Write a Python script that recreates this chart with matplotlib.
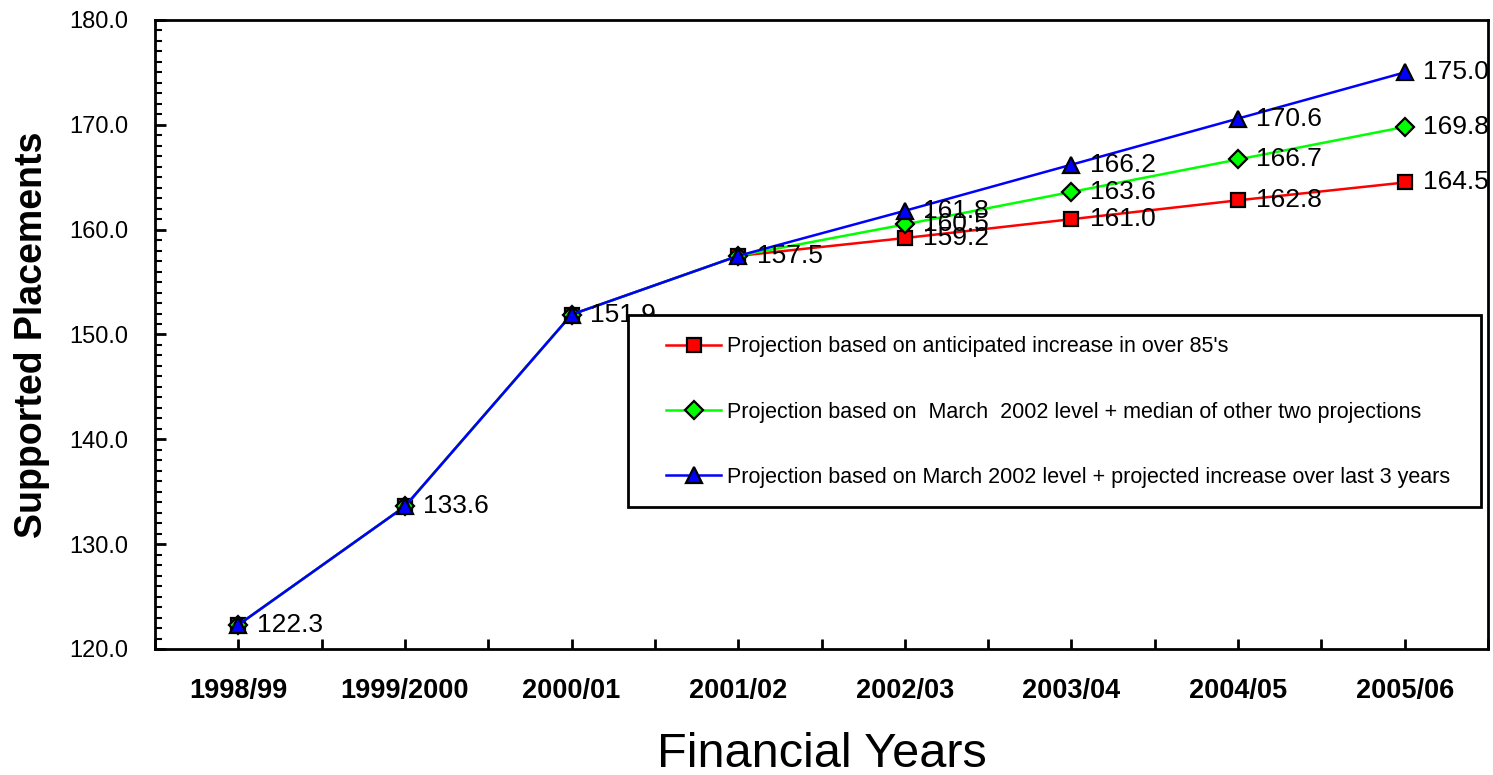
import matplotlib.pyplot as plt
from matplotlib.patches import Rectangle
from matplotlib.ticker import MultipleLocator, FormatStrFormatter

plt.rcParams['font.family'] = ['Liberation Sans', 'DejaVu Sans']

years = ["1998/99", "1999/2000", "2000/01", "2001/02",
         "2002/03", "2003/04", "2004/05", "2005/06"]

# actuals up to 2001/02, shared by all three projections
actual = [122.3, 133.6, 151.9, 157.5]
proj_85s = [159.2, 161.0, 162.8, 164.5]
proj_median = [160.5, 163.6, 166.7, 169.8]
proj_3yrs = [161.8, 166.2, 170.6, 175.0]

labels = ["Projection based on anticipated increase in over 85's",
          "Projection based on  March  2002 level + median of other two projections",
          "Projection based on March 2002 level + projected increase over last 3 years"]

fig = plt.figure(figsize=(14.93, 7.75), dpi=100)
ax = fig.add_axes([0.1038, 0.1626, 0.8929, 0.8116])

x = list(range(len(years)))
series = [(proj_85s, "red", "s", 10.5),
          (proj_median, "#00ff00", "D", 9),
          (proj_3yrs, "blue", "^", 11.5)]

for (vals, col, mk, ms), lab in zip(series, labels):
    ax.plot(x, actual + vals, color=col, lw=1.8, marker=mk, markersize=ms,
            markerfacecolor=col, markeredgecolor="black", markeredgewidth=1.6,
            label=lab)

for i, v in enumerate(actual):
    ax.text(i + 0.11, v, f"{v:.1f}", fontsize=19, va="center", ha="left")
for vals, _, _, _ in series:
    for j, v in enumerate(vals):
        ax.text(len(actual) + j + 0.11, v, f"{v:.1f}", fontsize=19,
                va="center", ha="left")

ax.set_xlim(-0.5, len(years) - 0.5)
ax.set_ylim(120, 180)
ax.set_xticks(x)
ax.set_xticklabels(years, fontsize=19.5, fontweight="bold")
ax.xaxis.set_minor_locator(MultipleLocator(0.5))
ax.yaxis.set_major_locator(MultipleLocator(10))
ax.yaxis.set_minor_locator(MultipleLocator(1))
ax.yaxis.set_major_formatter(FormatStrFormatter("%.1f"))
ax.tick_params(axis="y", which="major", direction="in", length=8, width=2,
               labelsize=17, pad=19)
ax.tick_params(axis="y", which="minor", direction="in", length=5, width=1.5)
ax.tick_params(axis="x", which="both", direction="in", length=7, width=2,
               pad=21)
for s in ax.spines.values():
    s.set_linewidth(2)

ax.set_ylabel("Supported Placements", fontsize=27, fontweight="bold", labelpad=14)
ax.set_xlabel("Financial Years", fontsize=35, labelpad=20)

# legend box drawn separately so the entries can sit further in from the edge
box = Rectangle((0.355, 0.226), 0.64, 0.305, transform=ax.transAxes,
                facecolor="white", edgecolor="black", lw=2, zorder=4.5)
ax.add_patch(box)
leg = ax.legend(loc="upper left", bbox_to_anchor=(0.3834, 0.497),
                fontsize=15.5, frameon=False, labelspacing=2.05,
                handlelength=2.56, borderpad=0, borderaxespad=0,
                handletextpad=0.28)

fig.savefig("out.png", dpi=100)
